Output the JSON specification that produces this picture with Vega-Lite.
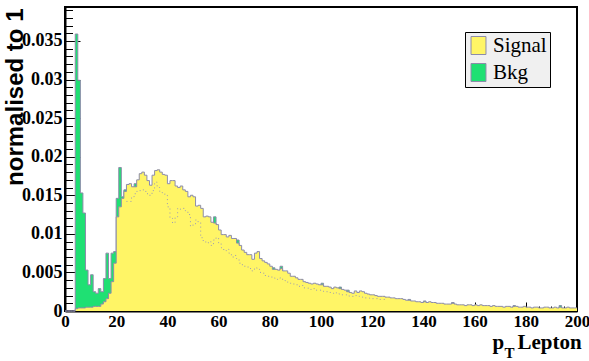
{
  "$schema": "https://vega.github.io/schema/vega-lite/v6.json",
  "width": 512,
  "height": 304,
  "autosize": {"type": "none"},
  "padding": {"left": 65, "top": 7, "right": 12, "bottom": 50},
  "background": "white",
  "config": {
    "view": {"stroke": "black", "strokeWidth": 2},
    "font": "Liberation Sans",
    "legend": {
      "orient": "none",
      "legendX": 400,
      "legendY": 25,
      "fillColor": "#f0f0f0",
      "strokeColor": "black",
      "padding": 3,
      "symbolType": "M-0.83,-1H0.83V1H-0.83Z",
      "symbolSize": 324,
      "symbolStrokeColor": "#8c8caa",
      "symbolStrokeWidth": 1,
      "symbolOpacity": 1,
      "labelFont": "Liberation Sans Narrow",
      "labelFontSize": 21,
      "labelColor": "black",
      "labelOffset": 4,
      "rowPadding": 4,
      "title": null
    }
  },
  "data": {"values": [
    {"x":0,"sig":0,"bkg":0},{"x":1,"sig":0,"bkg":0},{"x":2,"sig":0,"bkg":0},{"x":3,"sig":0,"bkg":0},
    {"x":4,"sig":0.0003,"bkg":0.0359},{"x":5,"sig":0.0004,"bkg":0.0299},{"x":6,"sig":0.0004,"bkg":0.0153},{"x":7,"sig":0.0004,"bkg":0.0127},
    {"x":8,"sig":0.0005,"bkg":0.0053},{"x":9,"sig":0.0005,"bkg":0.0034},{"x":10,"sig":0.0005,"bkg":0.0047},{"x":11,"sig":0.0006,"bkg":0.0025},
    {"x":12,"sig":0.0006,"bkg":0.0023},{"x":13,"sig":0.0006,"bkg":0.0029},{"x":14,"sig":0.0009,"bkg":0.0025},{"x":15,"sig":0.0012,"bkg":0.0042},
    {"x":16,"sig":0.0016,"bkg":0.0075},{"x":17,"sig":0.0023,"bkg":0.0042},{"x":18,"sig":0.0038,"bkg":0.0075},{"x":19,"sig":0.0062,"bkg":0.0077},
    {"x":20,"sig":0.0122,"bkg":0.0146},{"x":21,"sig":0.0135,"bkg":0.0186},{"x":22,"sig":0.0146,"bkg":0.0148},{"x":23,"sig":0.0155,"bkg":0.0157},
    {"x":24,"sig":0.0164,"bkg":0.0150,"dot":0.0142},{"x":25,"sig":0.0165,"bkg":0.0150,"dot":0.0142},{"x":26,"sig":0.0161,"bkg":0.0152,"dot":0.0148},{"x":27,"sig":0.0161,"bkg":0.0165,"dot":0.0152},
    {"x":28,"sig":0.0170,"bkg":0.0155,"dot":0.0155},{"x":29,"sig":0.0178,"bkg":0.0156,"dot":0.0156},{"x":30,"sig":0.0180,"bkg":0.0157,"dot":0.0157},{"x":31,"sig":0.0176,"bkg":0.0155,"dot":0.0155},
    {"x":32,"sig":0.0169,"bkg":0.0152,"dot":0.0152},{"x":33,"sig":0.0163,"bkg":0.0150,"dot":0.0150},{"x":34,"sig":0.0176,"bkg":0.0156,"dot":0.0156},{"x":35,"sig":0.0182,"bkg":0.0167,"dot":0.0167},
    {"x":36,"sig":0.0183,"bkg":0.0160,"dot":0.0160},{"x":37,"sig":0.0180,"bkg":0.0155,"dot":0.0155},{"x":38,"sig":0.0177,"bkg":0.0153,"dot":0.0153},{"x":39,"sig":0.0176,"bkg":0.0150,"dot":0.0150},
    {"x":40,"sig":0.0165,"bkg":0.0135,"dot":0.0135},{"x":41,"sig":0.0169,"bkg":0.0120,"dot":0.0120},{"x":42,"sig":0.0169,"bkg":0.0114,"dot":0.0114},{"x":43,"sig":0.0162,"bkg":0.0122,"dot":0.0122},
    {"x":44,"sig":0.0160,"bkg":0.0133,"dot":0.0133},{"x":45,"sig":0.0162,"bkg":0.0132,"dot":0.0132},{"x":46,"sig":0.0157,"bkg":0.0133,"dot":0.0133},{"x":47,"sig":0.0155,"bkg":0.0130,"dot":0.0130},
    {"x":48,"sig":0.0148,"bkg":0.0125,"dot":0.0125},{"x":49,"sig":0.0150,"bkg":0.0110,"dot":0.0110},{"x":50,"sig":0.0148,"bkg":0.0112,"dot":0.0112},{"x":51,"sig":0.0136,"bkg":0.0118,"dot":0.0118},
    {"x":52,"sig":0.0137,"bkg":0.0115,"dot":0.0115},{"x":53,"sig":0.0133,"bkg":0.0095,"dot":0.0095},{"x":54,"sig":0.0122,"bkg":0.0090,"dot":0.0090},{"x":55,"sig":0.0123,"bkg":0.0088,"dot":0.0088},
    {"x":56,"sig":0.0122,"bkg":0.0090,"dot":0.0090},{"x":57,"sig":0.0115,"bkg":0.0085,"dot":0.0085},{"x":58,"sig":0.0114,"bkg":0.0122,"dot":0.0092},{"x":59,"sig":0.0112,"bkg":0.0095,"dot":0.0095},
    {"x":60,"sig":0.0105,"bkg":0.0088,"dot":0.0088},{"x":61,"sig":0.0099,"bkg":0.0082,"dot":0.0082},{"x":62,"sig":0.0099,"bkg":0.0078,"dot":0.0078},{"x":63,"sig":0.0096,"bkg":0.0080,"dot":0.0080},
    {"x":64,"sig":0.0098,"bkg":0.0075,"dot":0.0075},{"x":65,"sig":0.0094,"bkg":0.0070,"dot":0.0070},{"x":66,"sig":0.0094,"bkg":0.0072,"dot":0.0072},{"x":67,"sig":0.0088,"bkg":0.0092,"dot":0.0068},
    {"x":68,"sig":0.0085,"bkg":0.0062,"dot":0.0062},{"x":69,"sig":0.0079,"bkg":0.0060,"dot":0.0060},{"x":70,"sig":0.0076,"bkg":0.0058,"dot":0.0058},{"x":71,"sig":0.0073,"bkg":0.0057,"dot":0.0057},
    {"x":72,"sig":0.0073,"bkg":0.0055,"dot":0.0055},{"x":73,"sig":0.0067,"bkg":0.0052,"dot":0.0052},{"x":74,"sig":0.0075,"bkg":0.0056,"dot":0.0056},{"x":75,"sig":0.0077,"bkg":0.0054,"dot":0.0054},
    {"x":76,"sig":0.0068,"bkg":0.0050,"dot":0.0050},{"x":77,"sig":0.0065,"bkg":0.0049,"dot":0.0049},{"x":78,"sig":0.0063,"bkg":0.0046,"dot":0.0046},{"x":79,"sig":0.0061,"bkg":0.0045,"dot":0.0045},
    {"x":80,"sig":0.0058,"bkg":0.0044,"dot":0.0044},{"x":81,"sig":0.0054,"bkg":0.0056,"dot":0.0043},{"x":82,"sig":0.0054,"bkg":0.0042,"dot":0.0042},{"x":83,"sig":0.0053,"bkg":0.0041,"dot":0.0041},
    {"x":84,"sig":0.0055,"bkg":0.0058,"dot":0.0043},{"x":85,"sig":0.0052,"bkg":0.0040,"dot":0.0040},{"x":86,"sig":0.0052,"bkg":0.0039,"dot":0.0039},{"x":87,"sig":0.0049,"bkg":0.0037,"dot":0.0037},
    {"x":88,"sig":0.0045,"bkg":0.0036,"dot":0.0036},{"x":89,"sig":0.0045,"bkg":0.0035,"dot":0.0035},{"x":90,"sig":0.0043,"bkg":0.0034,"dot":0.0034},{"x":91,"sig":0.0041,"bkg":0.0032,"dot":0.0032},
    {"x":92,"sig":0.0041,"bkg":0.0033,"dot":0.0033},{"x":93,"sig":0.0038,"bkg":0.0030,"dot":0.0030},{"x":94,"sig":0.0037,"bkg":0.0030,"dot":0.0030},{"x":95,"sig":0.0036,"bkg":0.0029,"dot":0.0029},
    {"x":96,"sig":0.0035,"bkg":0.0028,"dot":0.0028},{"x":97,"sig":0.0036,"bkg":0.0029,"dot":0.0029},{"x":98,"sig":0.0035,"bkg":0.0027,"dot":0.0027},{"x":99,"sig":0.0034,"bkg":0.0027,"dot":0.0027},
    {"x":100,"sig":0.0034,"bkg":0.0036,"dot":0.0026},{"x":101,"sig":0.0032,"bkg":0.0025,"dot":0.0025},{"x":102,"sig":0.0032,"bkg":0.0025,"dot":0.0025},{"x":103,"sig":0.0031,"bkg":0.0024,"dot":0.0024},
    {"x":104,"sig":0.0029,"bkg":0.0023,"dot":0.0023},{"x":105,"sig":0.0031,"bkg":0.0024,"dot":0.0024},{"x":106,"sig":0.0030,"bkg":0.0023,"dot":0.0023},{"x":107,"sig":0.0029,"bkg":0.0031,"dot":0.0022},
    {"x":108,"sig":0.0028,"bkg":0.0021,"dot":0.0021},{"x":109,"sig":0.0027,"bkg":0.0021,"dot":0.0021},{"x":110,"sig":0.0025,"bkg":0.0027,"dot":0.0020},{"x":111,"sig":0.0024,"bkg":0.0019,"dot":0.0019},
    {"x":112,"sig":0.0023,"bkg":0.0019,"dot":0.0019},{"x":113,"sig":0.0026,"bkg":0.0020,"dot":0.0020},{"x":114,"sig":0.0024,"bkg":0.0019,"dot":0.0019},{"x":115,"sig":0.0026,"bkg":0.0019,"dot":0.0019},
    {"x":116,"sig":0.0025,"bkg":0.0018,"dot":0.0018},{"x":117,"sig":0.0023,"bkg":0.0017,"dot":0.0017},{"x":118,"sig":0.0022,"bkg":0.0017,"dot":0.0017},{"x":119,"sig":0.0021,"bkg":0.0016,"dot":0.0016},
    {"x":120,"sig":0.0021,"bkg":0.0016,"dot":0.0016},{"x":121,"sig":0.0020,"bkg":0.0016,"dot":0.0016},{"x":122,"sig":0.0019,"bkg":0.0015,"dot":0.0015},{"x":123,"sig":0.0019,"bkg":0.0015,"dot":0.0015},
    {"x":124,"sig":0.0019,"bkg":0.0015,"dot":0.0015},{"x":125,"sig":0.0018,"bkg":0.0014,"dot":0.0014},{"x":126,"sig":0.0018,"bkg":0.0016},{"x":127,"sig":0.0017,"bkg":0.0015},
    {"x":128,"sig":0.0017,"bkg":0.0015},{"x":129,"sig":0.0016,"bkg":0.0014},{"x":130,"sig":0.0016,"bkg":0.0014},{"x":131,"sig":0.0016,"bkg":0.0014},
    {"x":132,"sig":0.0015,"bkg":0.0013},{"x":133,"sig":0.0014,"bkg":0.0012},{"x":134,"sig":0.0014,"bkg":0.0015},{"x":135,"sig":0.0013,"bkg":0.0011},
    {"x":136,"sig":0.0013,"bkg":0.0011},{"x":137,"sig":0.0012,"bkg":0.0010},{"x":138,"sig":0.0012,"bkg":0.0010},{"x":139,"sig":0.0011,"bkg":0.0009},
    {"x":140,"sig":0.0012,"bkg":0.0013},{"x":141,"sig":0.0011,"bkg":0.0009},{"x":142,"sig":0.0012,"bkg":0.0010},{"x":143,"sig":0.0011,"bkg":0.0009},
    {"x":144,"sig":0.0011,"bkg":0.0009},{"x":145,"sig":0.0010,"bkg":0.0008},{"x":146,"sig":0.0010,"bkg":0.0008},{"x":147,"sig":0.0010,"bkg":0.0008},
    {"x":148,"sig":0.0009,"bkg":0.0007},{"x":149,"sig":0.0009,"bkg":0.0007},{"x":150,"sig":0.0009,"bkg":0.0007},{"x":151,"sig":0.0010,"bkg":0.0011},
    {"x":152,"sig":0.0009,"bkg":0.0007},{"x":153,"sig":0.0008,"bkg":0.0006},{"x":154,"sig":0.0008,"bkg":0.0006},{"x":155,"sig":0.0008,"bkg":0.0006},
    {"x":156,"sig":0.0007,"bkg":0.0005},{"x":157,"sig":0.0008,"bkg":0.0006},{"x":158,"sig":0.0008,"bkg":0.0006},{"x":159,"sig":0.0007,"bkg":0.0005},
    {"x":160,"sig":0.0008,"bkg":0.0006},{"x":161,"sig":0.0007,"bkg":0.0005},{"x":162,"sig":0.0008,"bkg":0.0006},{"x":163,"sig":0.0007,"bkg":0.0005},
    {"x":164,"sig":0.0007,"bkg":0.0005},{"x":165,"sig":0.0007,"bkg":0.0005},{"x":166,"sig":0.0006,"bkg":0.0004},{"x":167,"sig":0.0007,"bkg":0.0005},
    {"x":168,"sig":0.0006,"bkg":0.0004},{"x":169,"sig":0.0006,"bkg":0.0004},{"x":170,"sig":0.0006,"bkg":0.0004},{"x":171,"sig":0.0005,"bkg":0.0003},
    {"x":172,"sig":0.0006,"bkg":0.0004},{"x":173,"sig":0.0006,"bkg":0.0004},{"x":174,"sig":0.0005,"bkg":0.0003},{"x":175,"sig":0.0006,"bkg":0.0007},
    {"x":176,"sig":0.0006,"bkg":0.0004},{"x":177,"sig":0.0005,"bkg":0.0003},{"x":178,"sig":0.0005,"bkg":0.0003},{"x":179,"sig":0.0006,"bkg":0.0004},
    {"x":180,"sig":0.0005,"bkg":0.0003},{"x":181,"sig":0.0005,"bkg":0.0003},{"x":182,"sig":0.0004,"bkg":0.0002},{"x":183,"sig":0.0005,"bkg":0.0003},
    {"x":184,"sig":0.0005,"bkg":0.0003},{"x":185,"sig":0.0004,"bkg":0.0002},{"x":186,"sig":0.0004,"bkg":0.0002},{"x":187,"sig":0.0005,"bkg":0.0003},
    {"x":188,"sig":0.0005,"bkg":0.0003},{"x":189,"sig":0.0004,"bkg":0.0002},{"x":190,"sig":0.0004,"bkg":0.0002},{"x":191,"sig":0.0005,"bkg":0.0003},
    {"x":192,"sig":0.0004,"bkg":0.0002},{"x":193,"sig":0.0005,"bkg":0.0007},{"x":194,"sig":0.0004,"bkg":0.0002},{"x":195,"sig":0.0004,"bkg":0.0002},
    {"x":196,"sig":0.0005,"bkg":0.0003},{"x":197,"sig":0.0004,"bkg":0.0002},{"x":198,"sig":0.0004,"bkg":0.0002},{"x":199,"sig":0.0004,"bkg":0.0002},
    {"x":200,"sig":0.0004,"bkg":0.0002}
  ]},
  "resolve": {"axis": {"x": "independent", "y": "independent"}},
  "layer": [
    {
      "mark": {"type": "area", "interpolate": "step-after", "opacity": 1},
      "encoding": {
        "x": {"field": "x", "type": "quantitative", "scale": {"domain": [0, 200], "nice": false},
          "axis": {"orient": "bottom", "values": [0,20,40,60,80,100,120,140,160,180,200], "tickSize": -9, "tickColor": "black", "tickWidth": 1,
            "domainColor": "black", "domainWidth": 2, "grid": false, "labelFont": "Liberation Sans Narrow", "labelFontWeight": "bold", "labelFontSize": 17,
            "labelColor": "black", "labelPadding": 11, "labelFlush": false, "labelOverlap": false,
            "title": "p", "titleFont": "Liberation Sans Narrow", "titleFontWeight": "bold", "titleFontSize": 21, "titleColor": "black",
            "titleX": 427, "titleY": 37, "titleAlign": "left", "titleBaseline": "alphabetic"}},
        "y": {"field": "bkg", "type": "quantitative", "scale": {"domain": [0, 0.0394], "nice": false},
          "axis": {"orient": "left", "values": [0,0.005,0.01,0.015,0.02,0.025,0.03,0.035], "format": "~g", "tickSize": -15, "tickColor": "black", "tickWidth": 1,
            "domainColor": "black", "domainWidth": 2, "grid": false, "labelFont": "Liberation Sans Narrow", "labelFontWeight": "bold", "labelFontSize": 18,
            "labelColor": "black", "labelPadding": 18, "labelFlush": false, "labelOverlap": false,
            "title": "normalised to 1", "titleFont": "Liberation Sans", "titleFontWeight": "bold", "titleFontSize": 24, "titleColor": "black",
            "titleAngle": 270, "titleX": -43, "titleY": 1, "titleAlign": "right", "titleBaseline": "alphabetic"}},
        "color": {"datum": "Bkg", "type": "nominal", "scale": {"domain": ["Signal", "Bkg"], "range": ["#fff566", "#1fe073"]}}
      }
    },
    {
      "mark": {"type": "line", "interpolate": "step-after", "color": "#8c8caa", "strokeWidth": 1},
      "encoding": {
        "x": {"field": "x", "type": "quantitative",
          "axis": {"orient": "bottom", "values": [0,5,10,15,20,25,30,35,40,45,50,55,60,65,70,75,80,85,90,95,100,105,110,115,120,125,130,135,140,145,150,155,160,165,170,175,180,185,190,195,200],
            "tickSize": -5, "tickColor": "black", "tickWidth": 1, "domain": false, "labels": false, "grid": false,
            "title": "T", "titleFont": "Liberation Sans Narrow", "titleFontWeight": "bold", "titleFontSize": 15, "titleColor": "black",
            "titleX": 439, "titleY": 46, "titleAlign": "left", "titleBaseline": "alphabetic"}},
        "y": {"field": "bkg", "type": "quantitative",
          "axis": {"orient": "left", "values": [0,0.001,0.002,0.003,0.004,0.005,0.006,0.007,0.008,0.009,0.010,0.011,0.012,0.013,0.014,0.015,0.016,0.017,0.018,0.019,0.020,0.021,0.022,0.023,0.024,0.025,0.026,0.027,0.028,0.029,0.030,0.031,0.032,0.033,0.034,0.035,0.036,0.037,0.038,0.039],
            "tickSize": -7.5, "tickColor": "black", "tickWidth": 1, "domain": false, "labels": false, "grid": false,
            "title": "Lepton", "titleFont": "Liberation Sans Narrow", "titleFontWeight": "bold", "titleFontSize": 21, "titleColor": "black",
            "titleAngle": 0, "titleX": 452, "titleY": 341, "titleAlign": "left", "titleBaseline": "alphabetic"}}
      }
    },
    {
      "mark": {"type": "area", "interpolate": "step-after", "opacity": 1},
      "encoding": {
        "x": {"field": "x", "type": "quantitative", "axis": null},
        "y": {"field": "sig", "type": "quantitative", "axis": null},
        "color": {"datum": "Signal", "type": "nominal"}
      }
    },
    {
      "mark": {"type": "line", "interpolate": "step-after", "color": "#8c8caa", "strokeWidth": 1},
      "encoding": {
        "x": {"field": "x", "type": "quantitative", "axis": null},
        "y": {"field": "sig", "type": "quantitative", "axis": null}
      }
    },
    {
      "mark": {"type": "line", "interpolate": "step-after", "color": "#9a9ab4", "strokeWidth": 1, "strokeDash": [1, 3]},
      "encoding": {
        "x": {"field": "x", "type": "quantitative", "axis": null},
        "y": {"field": "dot", "type": "quantitative", "axis": null}
      }
    }
  ]
}
